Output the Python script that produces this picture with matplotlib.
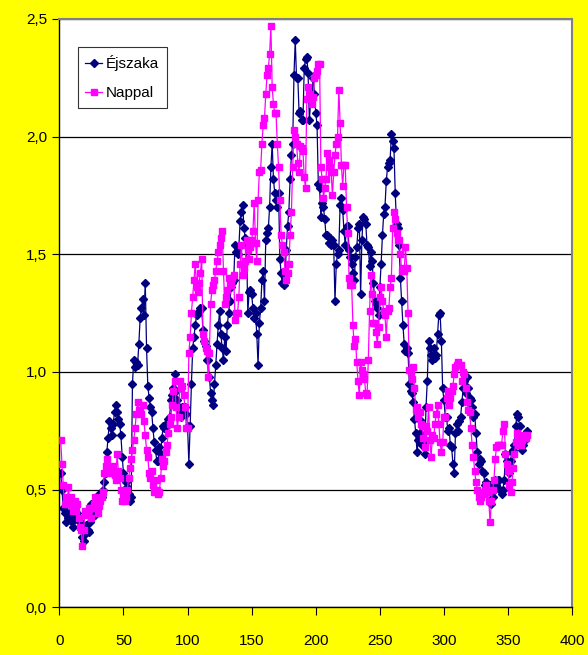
import matplotlib
matplotlib.use('Agg')

import matplotlib.pyplot as plt
import numpy as np

plt.rcParams['font.family'] = ['Liberation Sans', 'DejaVu Sans']

# daily values
ejszaka = [
    0.57, 0.50, 0.42, 0.40, 0.36, 0.40, 0.38, 0.44, 0.39, 0.36,
    0.34, 0.39, 0.43, 0.40, 0.37, 0.36, 0.34, 0.30, 0.28, 0.31,
    0.35, 0.33, 0.32, 0.36, 0.44, 0.41, 0.40, 0.39, 0.41, 0.44,
    0.48, 0.46, 0.47, 0.50, 0.53, 0.57, 0.66, 0.72, 0.79, 0.76,
    0.73, 0.78, 0.83, 0.86, 0.83, 0.80, 0.78, 0.73, 0.64, 0.57,
    0.55, 0.53, 0.51, 0.48, 0.45, 0.47, 0.95, 1.05, 1.02, 1.04,
    1.03, 1.12, 1.23, 1.27, 1.31, 1.24, 1.38, 1.10, 0.94, 0.89,
    0.85, 0.83, 0.76, 0.70, 0.67, 0.62, 0.62, 0.68, 0.65, 0.72,
    0.77, 0.76, 0.78, 0.77, 0.80, 0.81, 0.88, 0.90, 0.93, 0.99,
    0.92, 0.88, 0.85, 0.83, 0.81, 0.85, 0.85, 0.85, 0.82, 0.77,
    0.61, 0.77, 0.95, 1.10, 1.15, 1.20, 1.24, 1.25, 1.26, 1.27,
    1.27, 1.18, 1.13, 1.11, 1.05, 1.05, 0.98, 0.91, 0.88, 0.86,
    0.95, 1.03, 1.12, 1.20, 1.26, 1.16, 1.10, 1.05, 1.15, 1.09,
    1.20, 1.25, 1.30, 1.36, 1.38, 1.39, 1.54, 1.51, 1.50, 1.53,
    1.64, 1.68, 1.71, 1.61, 1.57, 1.54, 1.25, 1.34, 1.35, 1.33,
    1.27, 1.23, 1.25, 1.16, 1.03, 1.21, 1.27, 1.39, 1.43, 1.30,
    1.56, 1.59, 1.61, 1.70, 1.87, 1.97, 1.82, 1.76, 1.73, 1.70,
    1.76, 1.48, 1.42, 1.38, 1.37, 1.40, 1.52, 1.62, 1.68, 1.82,
    1.92, 1.97, 2.26, 2.41, 2.25, 2.25, 2.10, 2.11, 2.07, 2.07,
    2.29, 2.33, 2.34, 2.27, 2.07, 2.15, 2.17, 2.25, 2.18, 2.10,
    2.05, 1.80, 1.78, 1.66, 1.72, 1.70, 1.65, 1.58, 1.58, 1.55,
    1.57, 1.54, 1.56, 1.54, 1.30, 1.46, 1.50, 1.52, 1.71, 1.74,
    1.69, 1.60, 1.54, 1.62, 1.62, 1.52, 1.49, 1.46, 1.42, 1.39,
    1.49, 1.53, 1.61, 1.63, 1.33, 1.56, 1.66, 1.65, 1.63, 1.54,
    1.53, 1.45, 1.51, 1.47, 1.38, 1.30, 1.29, 1.27, 1.24, 1.36,
    1.46, 1.58, 1.67, 1.70, 1.81, 1.87, 1.89, 1.90, 2.01, 1.98,
    1.95, 1.76, 1.63, 1.61, 1.54, 1.40, 1.30, 1.20, 1.12, 1.09,
    1.10, 1.08, 0.95, 0.92, 0.91, 0.87, 0.80, 0.74, 0.66, 0.71,
    0.74, 0.79, 0.69, 0.70, 0.65, 0.85, 0.96, 1.13, 1.10, 1.07,
    1.05, 1.10, 1.06, 1.07, 1.16, 1.24, 1.25, 1.13, 0.93, 0.88,
    0.81, 0.81, 0.75, 0.76, 0.69, 0.68, 0.61, 0.57, 0.74, 0.78,
    0.75, 0.79, 0.81, 0.87, 0.93, 0.96, 0.91, 0.98, 0.93, 0.89,
    0.88, 0.85, 0.81, 0.82, 0.74, 0.66, 0.61, 0.63, 0.62, 0.58,
    0.57, 0.52, 0.53, 0.52, 0.50, 0.52, 0.44, 0.47, 0.50, 0.54,
    0.52, 0.54, 0.54, 0.50, 0.48, 0.50, 0.54, 0.65, 0.62, 0.58,
    0.57, 0.62, 0.66, 0.67, 0.69, 0.77, 0.82, 0.81, 0.77, 0.72,
    0.67, 0.69, 0.71, 0.74, 0.75,
]

nappal = [
    0.71, 0.61, 0.52, 0.44, 0.47, 0.44, 0.51, 0.46, 0.47, 0.43,
    0.41, 0.45, 0.41, 0.44, 0.38, 0.34, 0.33, 0.26, 0.33, 0.41,
    0.39, 0.40, 0.42, 0.42, 0.38, 0.42, 0.44, 0.47, 0.45, 0.40,
    0.43, 0.45, 0.47, 0.49, 0.57, 0.60, 0.63, 0.58, 0.59, 0.57,
    0.58, 0.60, 0.56, 0.54, 0.65, 0.58, 0.55, 0.50, 0.45, 0.48,
    0.45, 0.47, 0.50, 0.55, 0.59, 0.63, 0.67, 0.71, 0.76, 0.82,
    0.87, 0.84, 0.83, 0.82, 0.86, 0.79, 0.73, 0.67, 0.64, 0.57,
    0.55, 0.58, 0.52, 0.49, 0.54, 0.50, 0.48, 0.49, 0.55, 0.63,
    0.60, 0.62, 0.66, 0.69, 0.74, 0.78, 0.81, 0.86, 0.92, 0.96,
    0.85, 0.76, 0.81, 0.96, 0.93, 0.94, 0.90, 0.85, 0.76, 0.76,
    1.08, 1.15, 1.25, 1.32, 1.39, 1.46, 1.36, 1.34, 1.38, 1.42,
    1.48, 1.16, 1.13, 1.10, 1.09, 0.98, 1.08, 1.29, 1.35, 1.37,
    1.39, 1.43, 1.47, 1.51, 1.54, 1.57, 1.60, 1.43, 1.29, 1.32,
    1.35, 1.40, 1.37, 1.37, 1.40, 1.41, 1.22, 1.25, 1.25, 1.32,
    1.46, 1.54, 1.41, 1.44, 1.47, 1.56, 1.52, 1.48, 1.53, 1.56,
    1.60, 1.72, 1.55, 1.47, 1.73, 1.85, 1.86, 1.97, 2.05, 2.08,
    2.18, 2.26, 2.29, 2.35, 2.47, 2.21, 2.14, 2.10, 2.10, 1.97,
    1.87, 1.73, 1.58, 1.54, 1.51, 1.43, 1.39, 1.42, 1.46, 1.58,
    1.68, 1.87, 2.03, 2.00, 1.97, 1.89, 1.85, 1.96, 1.95, 1.94,
    1.83, 1.78, 2.16, 2.21, 2.18, 2.16, 2.14, 2.17, 2.25, 2.26,
    2.28, 2.31, 2.31, 1.87, 1.82, 1.74, 1.78, 1.82, 1.93, 1.90,
    1.87, 1.85, 1.75, 1.85, 1.92, 1.97, 2.00, 2.20, 2.06, 1.88,
    1.79, 1.88, 1.88, 1.70, 1.59, 1.40, 1.37, 1.37, 1.20, 1.11,
    1.14, 1.04, 0.96, 0.90, 1.04, 1.01, 0.99, 0.97, 0.91, 0.90,
    1.05, 1.26, 1.41, 1.33, 1.21, 1.21, 1.17, 1.12, 1.19, 1.32,
    1.36, 1.30, 1.26, 1.24, 1.15, 1.26, 1.27, 1.36, 1.40, 1.61,
    1.68, 1.65, 1.59, 1.56, 1.56, 1.50, 1.43, 1.44, 1.43, 1.53,
    1.44, 1.25, 1.01, 1.00, 0.97, 1.02, 0.93, 0.84, 0.85, 0.81,
    0.83, 0.78, 0.77, 0.72, 0.68, 0.77, 0.75, 0.85, 0.71, 0.64,
    0.73, 0.72, 0.78, 0.82, 0.86, 0.78, 0.70, 0.66, 0.70, 0.81,
    0.81, 0.89, 0.92, 0.86, 0.89, 0.92, 0.94, 0.99, 1.02, 1.03,
    1.04, 1.03, 1.03, 0.96, 1.00, 0.99, 0.93, 0.87, 0.84, 0.83,
    0.76, 0.69, 0.64, 0.58, 0.53, 0.50, 0.47, 0.45, 0.47, 0.49,
    0.48, 0.50, 0.52, 0.49, 0.45, 0.36, 0.45, 0.50, 0.54, 0.63,
    0.68, 0.69, 0.69, 0.69, 0.69, 0.75, 0.78, 0.65, 0.61, 0.58,
    0.52, 0.49, 0.53, 0.59, 0.65, 0.70, 0.74, 0.69, 0.72, 0.69,
    0.71, 0.73, 0.72, 0.72, 0.73,
]

x_ticks = [0, 50, 100, 150, 200, 250, 300, 350, 400]
y_ticks = [0.0, 0.5, 1.0, 1.5, 2.0, 2.5]
y_labels = ['0,0', '0,5', '1,0', '1,5', '2,0', '2,5']

fig = plt.figure(figsize=(5.88, 6.55), dpi=100, facecolor='#FFFF00')
ax = fig.add_axes([0.101, 0.073, 0.872, 0.898])
ax.set_facecolor('white')

days_e = np.arange(1, len(ejszaka) + 1)
days_n = np.arange(1, len(nappal) + 1)
ax.plot(days_e, ejszaka, color='#000080', lw=0.9, marker='D', ms=4,
        mec='#000080', mfc='#000080', label='Éjszaka', zorder=3)
ax.plot(days_n, nappal, color='#FF00FF', lw=0.9, marker='s', ms=4,
        mec='#FF00FF', mfc='#FF00FF', label='Nappal', zorder=4)

ax.set_xlim(0, 400)
ax.set_ylim(0, 2.5)
ax.set_xticks(x_ticks)
ax.set_yticks(y_ticks)
ax.set_yticklabels(y_labels)
ax.yaxis.grid(True, color='black', lw=0.9)
ax.set_axisbelow(True)

for s in ['top', 'right']:
    ax.spines[s].set_color('#808080')
    ax.spines[s].set_linewidth(1.5)
for s in ['left', 'bottom']:
    ax.spines[s].set_color('black')
    ax.spines[s].set_linewidth(1.0)

ax.tick_params(axis='x', direction='out', length=6, pad=13, labelsize=11)
ax.tick_params(axis='y', direction='out', length=5, pad=4, labelsize=11)

leg = ax.legend(loc='upper left', bbox_to_anchor=(0.036, 0.952),
                borderaxespad=0, fontsize=11, frameon=True, fancybox=False,
                edgecolor='black', handlelength=1.1, handletextpad=0.25,
                labelspacing=1.0, borderpad=0.5)
leg.get_frame().set_linewidth(0.8)

plt.savefig('out.png', dpi=100, facecolor=fig.get_facecolor())
